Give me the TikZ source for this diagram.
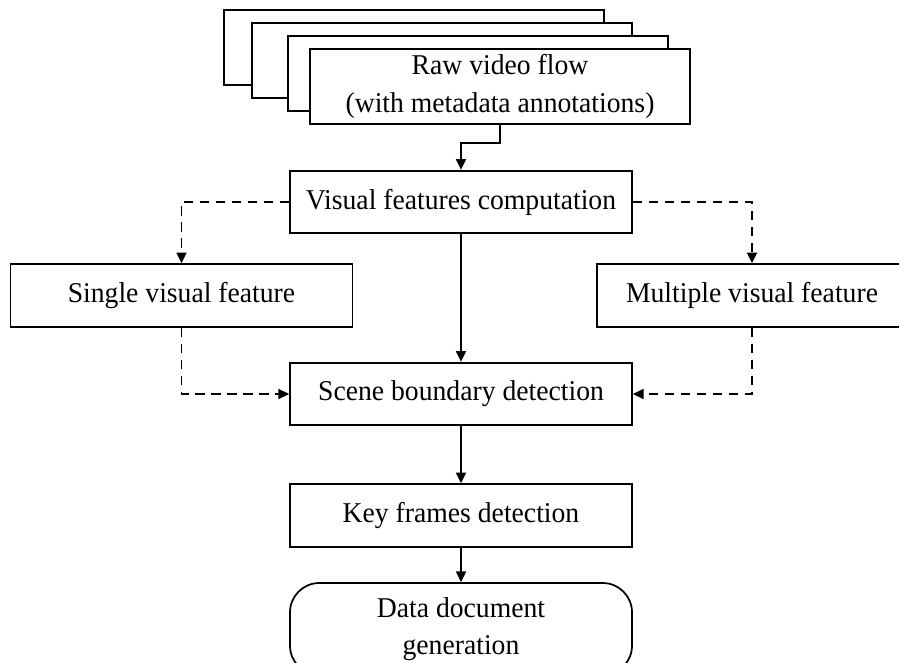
\documentclass[tikz,border=0pt]{standalone}
\usepackage{fontspec}
\setmainfont{Liberation Serif}[FakeStretch=0.965]
\usepackage{tikz}
\usetikzlibrary{arrows.meta,positioning,calc}
\tikzset{
  >={Triangle[length=8pt,width=7.5pt]},
  vtxt/.style={font=\fontsize{21.5pt}{28pt}\selectfont, align=center},
  vframe/.style={draw=black, fill=white, line width=1.3pt, inner sep=0pt,
                 minimum width=285pt, minimum height=56pt},
  vbox/.style={vtxt, draw=black, fill=white, line width=1.3pt, inner sep=2pt,
               minimum width=256.5pt, minimum height=47pt},
  vend/.style={vbox, rounded corners=22pt, minimum height=69pt},
  vflow/.style={->, line width=1.3pt},
  vopt/.style={->, line width=1.3pt, dash pattern=on 7pt off 5pt},
}
\begin{document}
\begin{tikzpicture}[x=0.75pt,y=-0.75pt]
  \useasboundingbox (0,0) rectangle (899,663);

  % stacked video frames
  \node[vframe] (raw3) at (414,47.5) {};
  \node[vframe] (raw2) at (442,60.5) {};
  \node[vframe] (raw1) at (478,73.5) {};
  \node[vframe, vtxt] (raw) at (500,86.5) {Raw video flow\\(with metadata annotations)};

  % main column
  \node[vbox] (vis)   at (461,202)   {Visual features computation};
  \node[vbox] (scene) at (461,394)   {Scene boundary detection};
  \node[vbox] (key)   at (461,515.5) {Key frames detection};
  \node[vend] (doc)   at (461,629)   {Data document\\generation};

  % feature options
  \node[vbox] (single) at (181.5,295.5) {Single visual feature};
  \node[vbox, minimum width=232.5pt] (multi) at (752,295.5) {Multiple visual feature};

  % connectors
  \draw[vflow] (raw.south) -- ++(0,18) -| (vis.north);
  \draw[vflow] (vis) -- (scene);
  \draw[vflow] (scene) -- (key);
  \draw[vflow] (key) -- (doc);
  \draw[vopt] (vis.west) -| (single.north);
  \draw[vopt] (vis.east) -| (multi.north);
  \draw[vopt] (single.south) |- (scene.west);
  \draw[vopt] (multi.south) |- (scene.east);

\end{tikzpicture}
\end{document}
